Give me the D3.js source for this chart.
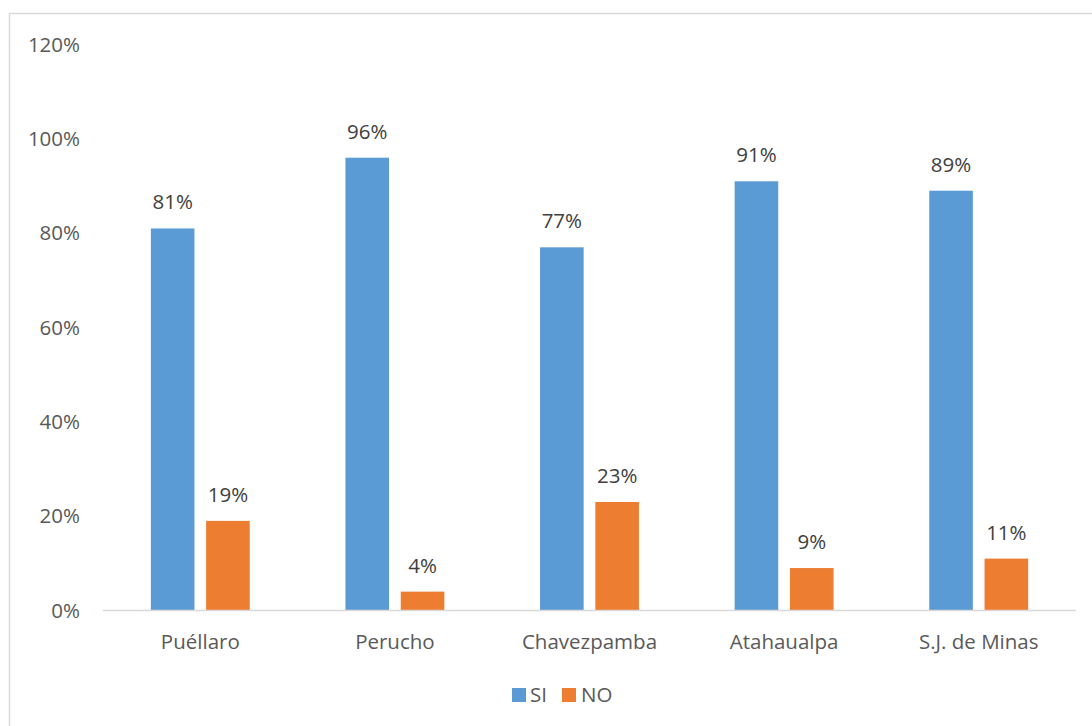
<!DOCTYPE html>
<html><head><meta charset="utf-8">
<script src="https://cdn.jsdelivr.net/npm/d3@7"></script>
<style>body{margin:0;background:#fff;} svg{display:block;}</style>
</head><body>
<script>
const categories = ["Puéllaro","Perucho","Chavezpamba","Atahaualpa","S.J. de Minas"];
const seriesNames = ["SI","NO"];
const siValues = [81,96,77,91,89];
const noValues = [19,4,23,9,11];
const yTicks = [0,20,40,60,80,100,120];
const colors = ["#5B9BD5","#ED7D31"];

const W=1092,H=726;
const svg=d3.select("body").append("svg").attr("width",W).attr("height",H);
const font="'Open Sans', sans-serif";
const fs=20.5;
svg.append("rect").attr("x",9.5).attr("y",13.5).attr("width",1200).attr("height",800)
  .attr("fill","none").attr("stroke","#d9d9d9").attr("stroke-width",1.5);

const x0=d3.scaleBand().domain(categories).range([103,1076]);
const y=d3.scaleLinear().domain([0,120]).range([610.5,44.5]);
const barW=43.6, gap=11.7;
const x1=d3.scaleOrdinal().domain(seriesNames).range([-(gap/2+barW), gap/2]);

svg.append("g").selectAll("text").data(yTicks).join("text")
  .attr("x",80).attr("y",d=>y(d)).attr("dy","0.35em").attr("text-anchor","end")
  .attr("font-family",font).attr("font-size",fs).attr("fill","#595959").text(d=>d+"%");

const data=seriesNames.map((s,i)=>({name:s,color:colors[i],vals:i===0?siValues:noValues}));
const g=svg.append("g");
data.forEach(s=>{
  g.selectAll(null).data(categories).join("rect")
    .attr("x",(c)=>x0(c)+x0.bandwidth()/2+x1(s.name)).attr("width",barW)
    .attr("y",(c,i)=>y(s.vals[i])).attr("height",(c,i)=>y(0)-y(s.vals[i]))
    .attr("fill",s.color);
  g.selectAll(null).data(categories).join("text")
    .attr("x",(c)=>x0(c)+x0.bandwidth()/2+x1(s.name)+barW/2)
    .attr("y",(c,i)=>y(s.vals[i])-19).attr("text-anchor","middle")
    .attr("font-family",font).attr("font-size",fs).attr("fill","#404040")
    .text((c,i)=>s.vals[i]+"%");
});

svg.append("line").attr("x1",103).attr("x2",1076).attr("y1",y(0)).attr("y2",y(0))
  .attr("stroke","#d9d9d9").attr("stroke-width",1.5);

svg.append("g").selectAll("text").data(categories).join("text")
  .attr("x",c=>x0(c)+x0.bandwidth()/2).attr("y",649).attr("text-anchor","middle")
  .attr("font-family",font).attr("font-size",fs).attr("fill","#595959").text(c=>c);

const leg=[{x:512,tx:530},{x:562,tx:581}];
data.forEach((s,i)=>{
  svg.append("rect").attr("x",leg[i].x).attr("y",688).attr("width",14).attr("height",14).attr("fill",s.color);
  svg.append("text").attr("x",leg[i].tx).attr("y",702).attr("font-family",font).attr("font-size",fs)
    .attr("fill","#595959").text(s.name);
});
</script>
</body></html>
